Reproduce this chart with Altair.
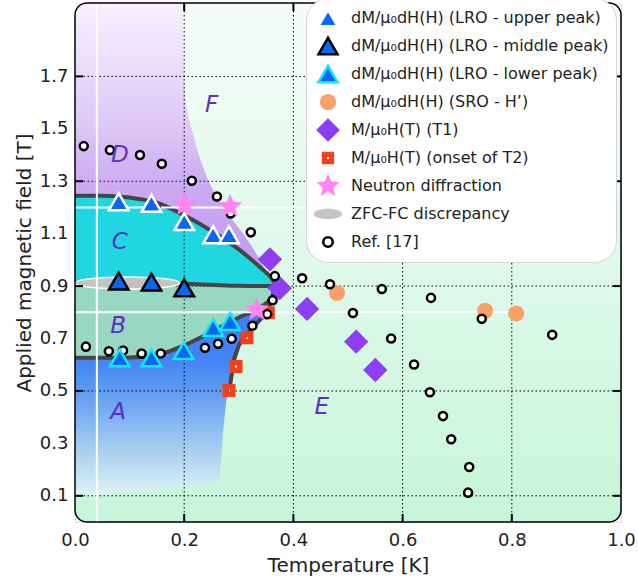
import math
import altair as alt
import pandas as pd

FONT = "DejaVu Sans"
W, HP = 546, 519
T_DOMAIN = [0.0, 1.0]
H_DOMAIN = [0.0, 1.98]

# ---------------- legend series ----------------
series_names = [
    "dM/μ₀dH(H) (LRO - upper peak)",
    "dM/μ₀dH(H) (LRO - middle peak)",
    "dM/μ₀dH(H) (LRO - lower peak)",
    "dM/μ₀dH(H) (SRO - H’)",
    "M/μ₀H(T) (T1)",
    "M/μ₀H(T) (onset of T2)",
    "Neutron diffraction",
    "ZFC-FC discrepancy",
    "Ref. [17]",
]

# ---------------- data points ----------------
upper_T = [0.08, 0.14, 0.2, 0.253, 0.282]
upper_H = [1.222, 1.216, 1.146, 1.096, 1.096]
middle_T = [0.08, 0.14, 0.2]
middle_H = [0.919, 0.915, 0.893]
lower_T = [0.082, 0.14, 0.199, 0.253, 0.284]
lower_H = [0.626, 0.626, 0.654, 0.742, 0.765]
sro_T = [0.48, 0.751, 0.808]
sro_H = [0.874, 0.806, 0.795]
t1_T = [0.357, 0.375, 0.425, 0.515, 0.55]
t1_H = [1.002, 0.892, 0.813, 0.688, 0.58]
t2_T = [0.282, 0.295, 0.315, 0.354]
t2_H = [0.502, 0.593, 0.703, 0.798]
neutron_T = [0.201, 0.284, 0.333]
neutron_H = [1.211, 1.204, 0.81]
zfc_T = [0.096]
zfc_H = [0.912]
ref_T = [0.016, 0.064, 0.119, 0.159, 0.214, 0.26, 0.285, 0.322, 0.366, 0.416,
         0.467, 0.562, 0.652, 0.509, 0.745, 0.874, 0.579, 0.621, 0.65, 0.674,
         0.689, 0.722, 0.72,
         0.02, 0.062, 0.088, 0.122, 0.157, 0.201, 0.238, 0.262, 0.287, 0.325,
         0.352, 0.362]
ref_H = [1.434, 1.419, 1.4, 1.367, 1.302, 1.242, 1.177, 1.105, 0.938, 0.93,
         0.907, 0.889, 0.855, 0.797, 0.775, 0.714, 0.70, 0.601, 0.495, 0.404,
         0.316, 0.21, 0.112,
         0.669, 0.651, 0.654, 0.643, 0.643, 0.65, 0.665, 0.68, 0.699, 0.749,
         0.793, 0.846]
dot_T = [0.148]
dot_H = [1.2]

# ---------------- region boundaries ----------------
region_T = [0.0, 0.05, 0.1, 0.15, 0.2, 0.25, 0.3, 0.34, 0.36, 0.368]
c_top_H = [1.245, 1.245, 1.238, 1.218, 1.17, 1.11, 1.04, 0.97, 0.93, 0.905]
c_bot_H = [0.915, 0.913, 0.912, 0.911, 0.909, 0.905, 0.901, 0.9, 0.9, 0.9]
b_bot_H = [0.627, 0.627, 0.628, 0.637, 0.674, 0.725, 0.78, 0.82, 0.856, 0.9]

purple_H = [0.9, 0.92, 1.0, 1.1, 1.2, 1.29, 1.38, 1.48, 1.6, 1.75, 1.98]
purple_T = [0.368, 0.36, 0.339, 0.308, 0.271, 0.247, 0.23, 0.216, 0.203, 0.199, 0.198]

a_H = [0.095, 0.15, 0.34, 0.464, 0.508, 0.603, 0.627, 0.628, 0.637, 0.674, 0.69,
       0.725, 0.74, 0.78, 0.805, 0.82, 0.856, 0.87, 0.9]
a_left = [0.0, 0.0, 0.0, 0.0, 0.0, 0.0, 0.0, 0.1, 0.15, 0.2, 0.215,
          0.25, 0.263, 0.3, 0.322, 0.34, 0.36, 0.362, 0.368]
a_right = [0.0, 0.265, 0.271, 0.277, 0.283, 0.29, 0.292, 0.293, 0.294, 0.3, 0.305,
           0.318, 0.324, 0.343, 0.351, 0.355, 0.362, 0.363, 0.368]

zone_labels = ["F", "D", "C", "B", "A", "E"]
zone_T = [0.25, 0.082, 0.082, 0.079, 0.079, 0.452]
zone_H = [1.589, 1.40, 1.068, 0.746, 0.42, 0.439]

grid_T = [0.2, 0.4, 0.6, 0.8]
grid_H = [0.1, 0.5, 0.9, 1.3, 1.7]
x_labels = [0.0, 0.2, 0.4, 0.6, 0.8, 1.0]
y_labels = [0.1, 0.3, 0.5, 0.7, 0.9, 1.1, 1.3, 1.5, 1.7]
white_v_T = [0.04]
white_h_H = [1.2, 0.8]
white_h_end = [0.815, 0.815]

# ---------------- symbols (paths in legend units) ----------------
def star_path(r_out, r_in):
    pts = []
    for k in range(10):
        ang = math.radians(-90 + 36 * k)
        r = r_out if k % 2 == 0 else r_in
        pts.append(f"{r * math.cos(ang):.3f},{r * math.sin(ang):.3f}")
    return "M" + "L".join(pts) + "Z"

def ellipse_path(rx, ry):
    return f"M{-rx},0A{rx},{ry},0,1,1,{rx},0A{rx},{ry},0,1,1,{-rx},0Z"

def diamond_path(r):
    return f"M0,{-r}L{r},0L0,{r}L{-r},0Z"

def square_hole_path(a, h):
    return (f"M{-a},{-a}L{a},{-a}L{a},{a}L{-a},{a}Z "
            f"M{-h},{-h}L{-h},{h}L{h},{h}L{h},{-h}Z")

BLUE = "#0a68f0"
shape_range = ["triangle-up", "triangle-up", "triangle-up", ellipse_path(0.85, 0.85),
               diamond_path(1.25), square_hole_path(0.65, 0.1), star_path(1.3, 0.58),
               ellipse_path(1.5, 0.55), ellipse_path(0.5, 0.5)]
fill_range = [BLUE, BLUE, BLUE, "#fba066", "#8f3ff3", "#f2411d", "#ff84f2", "#c4c4c4", "#ffffff"]
stroke_range = ["#ffffff", "#000000", "#10e8f8", "transparent", "transparent",
                "transparent", "transparent", "transparent", "#000000"]
# marker sizes in the plot (symbol area units)
plot_size = [380, 380, 380, 354, 380, 400, 380, 0, 260]

# ---------------- tables ----------------
series_data = [
    (4, t1_T, t1_H), (5, t2_T, t2_H), (3, sro_T, sro_H), (8, ref_T, ref_H),
    (2, lower_T, lower_H), (1, middle_T, middle_H), (0, upper_T, upper_H),
    (6, neutron_T, neutron_H),
]

regions_df = pd.DataFrame({"T": region_T, "ctop": c_top_H, "cbot": c_bot_H,
                           "bbot": b_bot_H, "zero": [0.0] * len(region_T)})
purple_df = pd.DataFrame({"H": purple_H, "T": purple_T, "zero": [0.0] * len(purple_H)})
a_df = pd.DataFrame({"H": a_H, "left": a_left, "right": a_right})
a_line_df = a_df[a_df["H"] >= 0.5].drop_duplicates(subset="right")
frame_df = pd.DataFrame({"x0": [T_DOMAIN[0]], "x1": [T_DOMAIN[1]],
                         "y0": [H_DOMAIN[0]], "y1": [H_DOMAIN[1]]})
labels_df = pd.DataFrame({"txt": zone_labels, "T": zone_T, "H": zone_H})
gridT_df = pd.DataFrame({"T": grid_T})
gridH_df = pd.DataFrame({"H": grid_H})
wv_df = pd.DataFrame({"T": white_v_T})
wh_df = pd.DataFrame({"H": white_h_H, "x0": [0.0, 0.0], "x1": white_h_end})
zfc_df = pd.DataFrame({"T": zfc_T, "H": zfc_H})
dot_df = pd.DataFrame({"T": dot_T, "H": dot_H})

# ---------------- scales/axes ----------------
x_scale = alt.Scale(domain=T_DOMAIN, nice=False, zero=False)
y_scale = alt.Scale(domain=H_DOMAIN, nice=False, zero=False)
x_axis = alt.Axis(values=x_labels, format=".1f", title="Temperature [K]", ticks=False,
                  domain=False, grid=False, labelFontSize=18, titleFontSize=20,
                  labelPadding=9, titlePadding=6, labelColor="#222", titleColor="#222",
                  titleFontWeight="normal", labelFont=FONT, titleFont=FONT, labelFlush=False)
y_axis = alt.Axis(values=y_labels, format=".1f", title="Applied magnetic field [T]",
                  ticks=False, domain=False, grid=False, labelFontSize=18, titleFontSize=20,
                  labelPadding=7, titlePadding=5, labelColor="#222", titleColor="#222",
                  titleFontWeight="normal", labelFont=FONT, titleFont=FONT, labelFlush=False)

def X(f):
    return alt.X(f, type="quantitative", scale=x_scale, axis=x_axis)

def Y(f):
    return alt.Y(f, type="quantitative", scale=y_scale, axis=y_axis)

def grad(stops):
    return alt.Gradient(gradient="linear", x1=0, x2=0, y1=0, y2=1,
                        stops=[alt.GradientStop(color=c, offset=o) for o, c in stops])

# ---------------- layers ----------------
bg = alt.Chart(frame_df).mark_rect(
    cornerRadius=12,
    fill=grad([(0, "#f6fdf9"), (0.5, "#dff9eb"), (1, "#c6f6d9")]),
).encode(x=X("x0"), x2="x1", y=Y("y0"), y2="y1")

purple = alt.Chart(purple_df).mark_area(
    orient="horizontal", interpolate="monotone",
    fill=grad([(0, "#f7f2fd"), (0.45, "#dcc6f6"), (0.65, "#cbaaf2"), (1, "#be97ef")]),
).encode(y=Y("H"), x=X("T"), x2="zero")

c_area = alt.Chart(regions_df).mark_area(
    orient="vertical", interpolate="monotone", color="#20d7e1", opacity=1
).encode(x=X("T"), y=Y("ctop"), y2="cbot")

b_area = alt.Chart(regions_df).mark_area(
    orient="vertical", interpolate="monotone", color="#98d8c2", opacity=1
).encode(x=X("T"), y=Y("cbot"), y2="bbot")

a_area = alt.Chart(a_df).mark_area(
    orient="horizontal", interpolate="linear",
    fill=grad([(0, "#3a7af2"), (0.35, "#4284f4"), (0.5, "#5f9bf3"),
               (0.75, "#a0caf0"), (1, "#e2f4f4")]),
).encode(y=Y("H"), x=X("right"), x2="left")

grid_v = alt.Chart(gridT_df).mark_rule(color="black", strokeWidth=1, strokeDash=[1.5, 2.5]).encode(x=X("T"))
grid_h = alt.Chart(gridH_df).mark_rule(color="black", strokeWidth=1, strokeDash=[1.5, 2.5]).encode(y=Y("H"))

DARK = "#454545"
line_ctop = alt.Chart(regions_df).mark_line(color=DARK, strokeWidth=4, interpolate="monotone").encode(x=X("T"), y=Y("ctop"))
line_cbot = alt.Chart(regions_df).mark_line(color=DARK, strokeWidth=4, interpolate="monotone").encode(x=X("T"), y=Y("cbot"))
line_bbot = alt.Chart(regions_df).mark_line(color=DARK, strokeWidth=4, interpolate="monotone").encode(x=X("T"), y=Y("bbot"))
line_a = alt.Chart(a_line_df).mark_line(color=DARK, strokeWidth=4, interpolate="linear").encode(
    x=X("right"), y=Y("H"), order=alt.Order("H:Q"))

zfc = alt.Chart(zfc_df).mark_point(
    shape=ellipse_path(1, 0.115), size=11025, filled=True, fill="#c3c3c3",
    stroke="white", strokeWidth=1.5, opacity=1,
).encode(x=X("T"), y=Y("H"))

white_v = alt.Chart(wv_df).mark_rule(color="white", strokeWidth=2).encode(x=X("T"))
white_h = alt.Chart(wh_df).mark_rule(color="white", strokeWidth=2).encode(x=X("x0"), x2="x1", y=Y("H"))

dot = alt.Chart(dot_df).mark_point(filled=True, color="#8c1a7c", size=110, opacity=1).encode(x=X("T"), y=Y("H"))

leg = alt.Legend(
    title=None, orient="none", legendX=231, legendY=-5, fillColor="white",
    cornerRadius=22, padding=7, strokeColor="#d5d5d5", labelFontSize=16, labelFont=FONT,
    labelColor="#222", labelLimit=400, symbolStrokeWidth=2.5, symbolSize=360,
    rowPadding=2, gridAlign="all", labelOffset=12, clipHeight=26, symbolOffset=4,
)
shape_enc = alt.Shape("series:N", scale=alt.Scale(domain=series_names, range=shape_range), legend=leg)
fill_enc = alt.Fill("series:N", scale=alt.Scale(domain=series_names, range=fill_range), legend=leg)
stroke_enc = alt.Stroke("series:N", scale=alt.Scale(domain=series_names, range=stroke_range), legend=leg)

point_layers = []
for idx, ts, hs in series_data:
    df = pd.DataFrame({"series": [series_names[idx]] * len(ts), "T": ts, "H": hs})
    point_layers.append(
        alt.Chart(df).mark_point(filled=True, strokeWidth=2.5, opacity=1, size=plot_size[idx]).encode(
            x=X("T"), y=Y("H"), shape=shape_enc, fill=fill_enc, stroke=stroke_enc)
    )

zone_text = alt.Chart(labels_df).mark_text(
    font=FONT, fontSize=23, fontStyle="italic", color="#5b30c2"
).encode(x=X("T"), y=Y("H"), text="txt:N")

TICK = dict(color="black", strokeWidth=2)
tick_b = alt.Chart(gridT_df).mark_rule(**TICK).encode(x=X("T"), y=alt.value(HP), y2=alt.value(HP - 8))
tick_t = alt.Chart(gridT_df).mark_rule(**TICK).encode(x=X("T"), y=alt.value(0), y2=alt.value(8))
tick_l = alt.Chart(gridH_df).mark_rule(**TICK).encode(y=Y("H"), x=alt.value(0), x2=alt.value(8))
tick_r = alt.Chart(gridH_df).mark_rule(**TICK).encode(y=Y("H"), x=alt.value(W), x2=alt.value(W - 8))

frame = alt.Chart(frame_df).mark_rect(
    cornerRadius=12, fill="transparent", stroke="black", strokeWidth=1.5
).encode(x=X("x0"), x2="x1", y=Y("y0"), y2="y1")

chart = alt.layer(
    bg, purple, c_area, b_area, a_area, grid_v, grid_h,
    line_ctop, line_cbot, line_bbot, line_a, zfc, white_v, white_h,
    tick_b, tick_t, tick_l, tick_r, frame, dot,
    *point_layers, zone_text,
).properties(
    width=W, height=HP,
    autosize=alt.AutoSizeParams(type="none"),
    padding={"left": 75, "top": 3, "right": 17, "bottom": 64},
).configure_view(stroke=None).configure(font=FONT)

chart.save("out.html", embed_options={"renderer": "svg", "actions": False})
